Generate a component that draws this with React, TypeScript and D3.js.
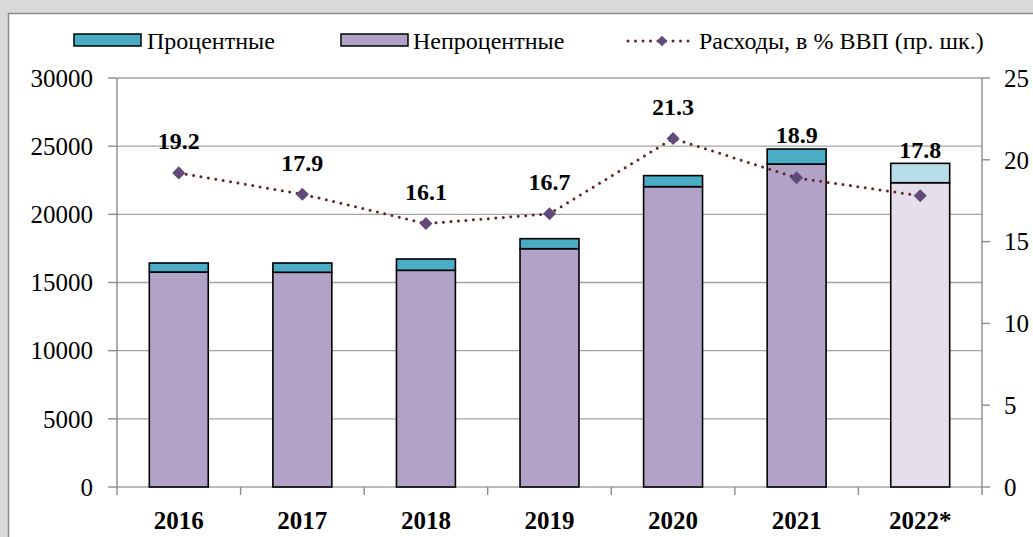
import React from "react";
import * as d3 from "d3";

// Data
const years = ["2016", "2017", "2018", "2019", "2020", "2021", "2022*"];
const nonInterest = [15770, 15750, 15895, 17480, 22030, 23690, 22320];
const interest = [660, 680, 830, 735, 810, 1100, 1420];
const spendingPctGdp = [19.2, 17.9, 16.1, 16.7, 21.3, 18.9, 17.8];
const leftTicks = [0, 5000, 10000, 15000, 20000, 25000, 30000];
const rightTicks = [0, 5, 10, 15, 20, 25];

const W = 1033;
const H = 537;
const font = "'Times New Roman', Times, 'Liberation Serif', 'DejaVu Serif', serif";

const Txt = (props: any) => <text style={{ fontFamily: font }} fill="#000" {...props} />;

const App = () => {
  const left = 117;
  const right = 982;
  const top = 78;
  const bottom = 487;

  const x = d3.scaleBand<string>().domain(years).range([left, right]).paddingInner(0.523).paddingOuter(0.2615);
  const yL = d3.scaleLinear().domain([0, 30000]).range([bottom, top]);
  const yR = d3.scaleLinear().domain([0, 25]).range([bottom, top]);

  const isForecast = (i: number) => i === years.length - 1;
  const cx = (i: number) => (x(years[i]) as number) + x.bandwidth() / 2;

  const line = d3
    .line<number>()
    .x((_, i) => cx(i))
    .y((d) => yR(d));

  const diamond = d3.symbol(d3.symbolSquare, 85)();
  const bandStep = (right - left) / years.length;

  return (
    <svg width={W} height={H} style={{ position: "absolute", left: 0, top: 0 }}>
      <rect x={0} y={0} width={W} height={H} fill="#d9d9d9" />
      <rect x={8.5} y={13.5} width={W + 20} height={H + 20} fill="#fff" stroke="#8c8c8c" strokeWidth={1.5} />

      {/* gridlines */}
      {leftTicks.map((t) => (
        <line key={"g" + t} x1={left} x2={right} y1={yL(t)} y2={yL(t)} stroke="#a3a3a3" strokeWidth={1.4} />
      ))}

      {/* axes */}
      <line x1={left} x2={left} y1={top} y2={bottom} stroke="#8c8c8c" strokeWidth={1.4} />
      <line x1={right} x2={right} y1={top} y2={bottom} stroke="#8c8c8c" strokeWidth={1.4} />
      {leftTicks.map((t) => (
        <g key={"l" + t}>
          <line x1={left - 9} x2={left} y1={yL(t)} y2={yL(t)} stroke="#8c8c8c" strokeWidth={1.4} />
          <Txt x={93} y={yL(t)} dy="0.35em" textAnchor="end" fontSize={25}>
            {t}
          </Txt>
        </g>
      ))}
      {rightTicks.map((t) => (
        <g key={"r" + t}>
          <line x1={right} x2={right + 8} y1={yR(t)} y2={yR(t)} stroke="#8c8c8c" strokeWidth={1.4} />
          <Txt x={1004} y={yR(t)} dy="0.35em" textAnchor="start" fontSize={25}>
            {t}
          </Txt>
        </g>
      ))}
      {d3.range(years.length + 1).map((i) => (
        <line
          key={"xt" + i}
          x1={left + i * bandStep}
          x2={left + i * bandStep}
          y1={bottom}
          y2={bottom + 8}
          stroke="#8c8c8c"
          strokeWidth={1.4}
        />
      ))}
      {years.map((yr, i) => (
        <Txt key={"xl" + yr} x={cx(i)} y={520} dy="0.35em" textAnchor="middle" fontSize={25} fontWeight="bold">
          {yr}
        </Txt>
      ))}

      {/* stacked bars */}
      {years.map((yr, i) => {
        const bx = x(yr) as number;
        const bw = x.bandwidth();
        const base = nonInterest[i];
        const total = base + interest[i];
        return (
          <g key={"b" + yr} stroke="#000" strokeWidth={1.6}>
            <rect
              x={bx}
              y={yL(base)}
              width={bw}
              height={yL(0) - yL(base)}
              fill={isForecast(i) ? "#e5dfec" : "#b2a2c7"}
            />
            <rect
              x={bx}
              y={yL(total)}
              width={bw}
              height={yL(base) - yL(total)}
              fill={isForecast(i) ? "#b7dee8" : "#4bacc6"}
            />
          </g>
        );
      })}

      {/* line on right scale */}
      <path
        d={line(spendingPctGdp) as string}
        fill="none"
        stroke="#632523"
        strokeWidth={3}
        strokeDasharray="0 7.5"
        strokeLinecap="round"
      />
      {spendingPctGdp.map((v, i) => (
        <path key={"m" + i} d={diamond as string} transform={`translate(${cx(i)},${yR(v)}) rotate(45)`} fill="#604a7b" />
      ))}
      {spendingPctGdp.map((v, i) => {
        const barTop = yL(nonInterest[i] + interest[i]);
        const ly = Math.min(yR(v) - 32, barTop - 14);
        return (
          <Txt key={"dl" + i} x={cx(i)} y={ly} dy="0.35em" textAnchor="middle" fontSize={24} fontWeight="bold">
            {v.toFixed(1)}
          </Txt>
        );
      })}

      {/* legend */}
      <g>
        <rect x={74} y={34} width={67} height={12} fill="#4bacc6" stroke="#000" strokeWidth={1.5} />
        <Txt x={147} y={41} dy="0.35em" fontSize={24}>
          Процентные
        </Txt>
        <rect x={341} y={34} width={67} height={12} fill="#b2a2c7" stroke="#000" strokeWidth={1.5} />
        <Txt x={413} y={41} dy="0.35em" fontSize={24}>
          Непроцентные
        </Txt>
        <line x1={628} x2={692} y1={41} y2={41} stroke="#632523" strokeWidth={3} strokeDasharray="0 7.5" strokeLinecap="round" />
        <path d={diamond as string} transform="translate(662,41) rotate(45) scale(0.8)" fill="#604a7b" />
        <Txt x={699} y={41} dy="0.35em" fontSize={24}>
          Расходы, в % ВВП (пр. шк.)
        </Txt>
      </g>
    </svg>
  );
};

export default App;
